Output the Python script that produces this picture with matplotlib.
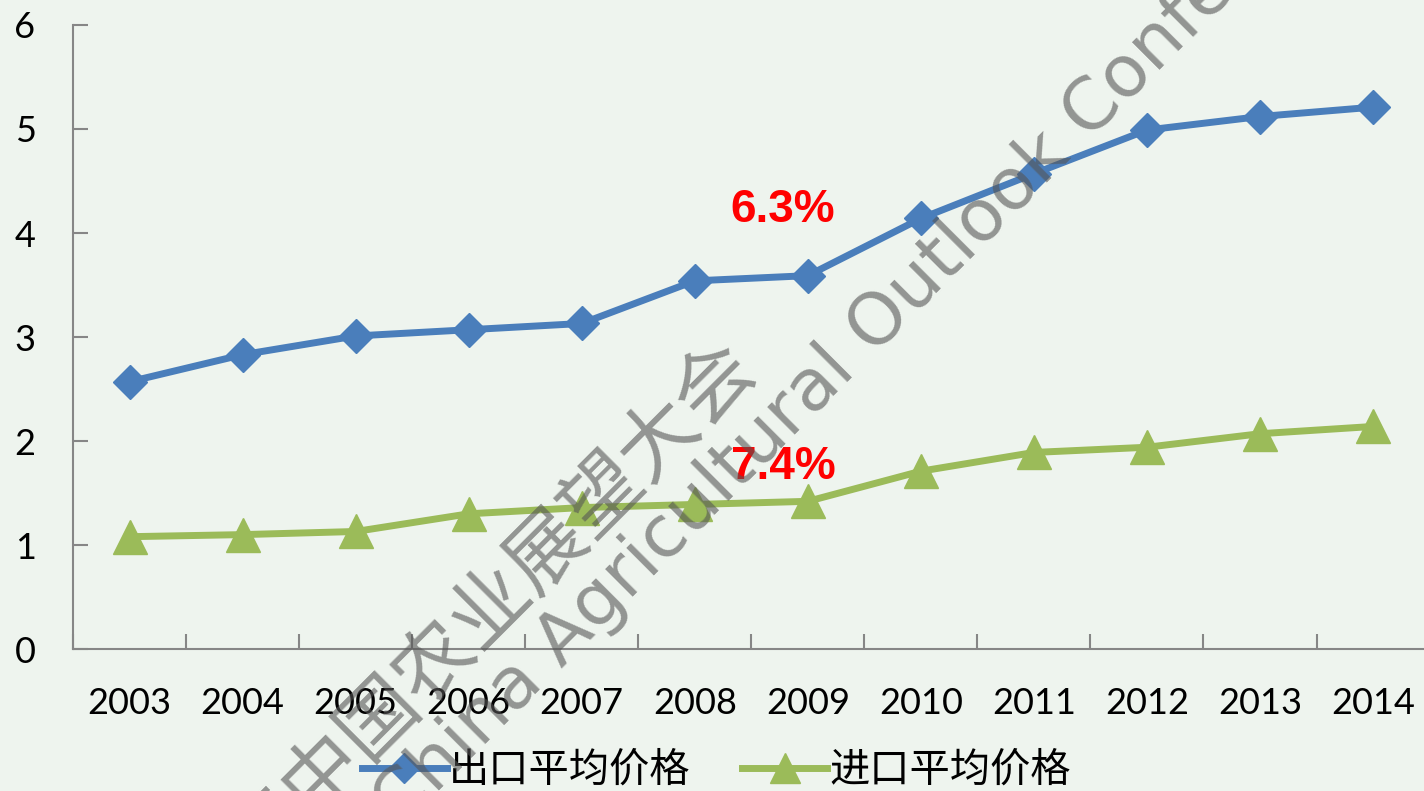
import numpy as np
import matplotlib
matplotlib.use('Agg')
import matplotlib.pyplot as plt

years = ['2003', '2004', '2005', '2006', '2007', '2008', '2009', '2010', '2011', '2012', '2013', '2014']
export_price = [2.57, 2.83, 3.01, 3.07, 3.13, 3.54, 3.59, 4.14, 4.57, 4.99, 5.12, 5.21]
import_price = [1.08, 1.10, 1.13, 1.30, 1.36, 1.39, 1.42, 1.71, 1.89, 1.94, 2.07, 2.14]
series_names = ['出口平均价格', '进口平均价格']
growth_labels = ['6.3%', '7.4%']

bg = '#eef4ee'
axis_gray = '#868686'
cjk = ['Noto Sans CJK SC', 'DejaVu Sans']

fig = plt.figure(figsize=(14.24, 7.91), dpi=100, facecolor=bg)
ax = fig.add_axes([0.0513, 0.1795, 0.9526, 0.7889], facecolor=bg)

x = np.arange(len(years))
l1, = ax.plot(x, export_price, color='#4a7ebb', lw=5, marker='D', markersize=17,
              label=series_names[0], solid_joinstyle='round', zorder=3)
l2, = ax.plot(x, import_price, color='#9bbb59', lw=5, marker='^', markersize=24,
              label=series_names[1], solid_joinstyle='round', zorder=3)

ax.set_xlim(-0.5, len(years) - 0.5)
ax.set_ylim(0, 6)
ax.set_yticks(range(0, 7))

# category ticks sit between the years, like Excel
ax.set_xticks(np.arange(-0.5, len(years), 1.0))
ax.set_xticklabels([])
ax.set_xticks(x, minor=True)
ax.set_xticklabels(years, minor=True, fontsize=26, family='Lato')
ax.tick_params(axis='x', which='major', direction='in', length=11, width=1.5, color=axis_gray)
ax.tick_params(axis='x', which='minor', length=0, pad=27, labelsize=26)
ax.tick_params(axis='y', direction='in', length=11, width=1.5, color=axis_gray, pad=27, labelsize=26)
for lab in ax.get_yticklabels():
    lab.set_family('Lato')

for s in ['top', 'right']:
    ax.spines[s].set_visible(False)
for s in ['left', 'bottom']:
    ax.spines[s].set_color(axis_gray)
    ax.spines[s].set_linewidth(1.5)

# growth rate notes
ax.text(5.78, 4.22, growth_labels[0], color='red', fontsize=33, fontweight='bold',
        family='Liberation Sans', ha='center', va='center', zorder=4)
ax.text(5.78, 1.75, growth_labels[1], color='red', fontsize=33, fontweight='bold',
        family='Liberation Sans', ha='center', va='center', zorder=4)

fig.legend(handles=[l1, l2], loc='center', bbox_to_anchor=(0.503, 0.026), ncol=2,
           frameon=False, prop={'family': cjk, 'size': 29}, handlelength=2.1,
           handletextpad=0.05, columnspacing=1.3, markerscale=0.9)

# watermark
fig.text(0.322, 1 - 642 / 791, '2015中国农业展望大会', rotation=45, rotation_mode='anchor',
         ha='center', va='center', fontsize=57, color='#555555', alpha=0.6,
         family=cjk, zorder=10)
fig.text(0.615, 1 - 326 / 791, 'China Agricultural Outlook Conference', rotation=45,
         rotation_mode='anchor', ha='center', va='center', fontsize=52, color='#555555',
         alpha=0.6, family='DejaVu Sans', zorder=10)

fig.savefig('out.png', dpi=100, facecolor=bg)
